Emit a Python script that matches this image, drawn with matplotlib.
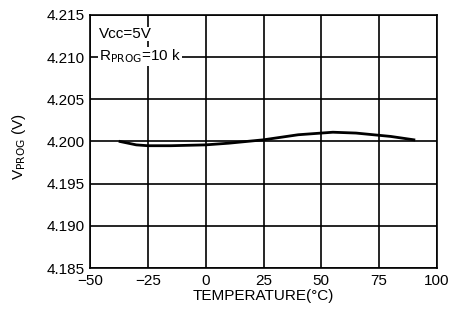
import numpy as np
import matplotlib.pyplot as plt

plt.rcParams['font.family'] = ['Liberation Sans', 'DejaVu Sans']

temp = [-37, -30, -25, -15, 0, 10, 25, 40, 55, 65, 80, 90]
vprog = [4.2000, 4.1996, 4.1995, 4.1995, 4.1996, 4.1998, 4.2002, 4.2008, 4.2011, 4.2010, 4.2006, 4.2002]
xticks = [-50, -25, 0, 25, 50, 75, 100]
yticks = [4.185, 4.190, 4.195, 4.200, 4.205, 4.210, 4.215]

fig = plt.figure(figsize=(4.53, 3.09), dpi=100)
ax = fig.add_axes([90/453, 1-268/309, 347/453, 253/309])

ax.plot(temp, vprog, color='black', lw=2)
ax.set_xlim(-50, 100)
ax.set_ylim(4.185, 4.215)
ax.set_xticks(xticks)
ax.set_yticks(yticks)
ax.set_xticklabels([str(t).replace('-', '\u2212') for t in xticks], fontsize=11)
ax.set_yticklabels(['%.3f' % v for v in yticks], fontsize=11)
ax.grid(True, color='black', lw=1.2)
ax.tick_params(length=0, pad=4)
for s in ax.spines.values():
    s.set_linewidth(1.2)

ax.set_xlabel('TEMPERATURE(\u00b0C)', fontsize=11, labelpad=1)
ax.set_ylabel('V$_{\\mathrm{PROG}}$ (V)', fontsize=11)
ax.yaxis.set_label_coords(-62/347, 0.48)

ax.text(-46, 4.2127, 'Vcc=5V', fontsize=11, va='center', ha='left',
        bbox=dict(facecolor='white', edgecolor='none', pad=0))
ax.text(-46, 4.2101, 'R$_{\\mathrm{PROG}}$=10 k', fontsize=11, va='center', ha='left',
        bbox=dict(facecolor='white', edgecolor='none', pad=0.5))

fig.savefig('out.png', dpi=100)
